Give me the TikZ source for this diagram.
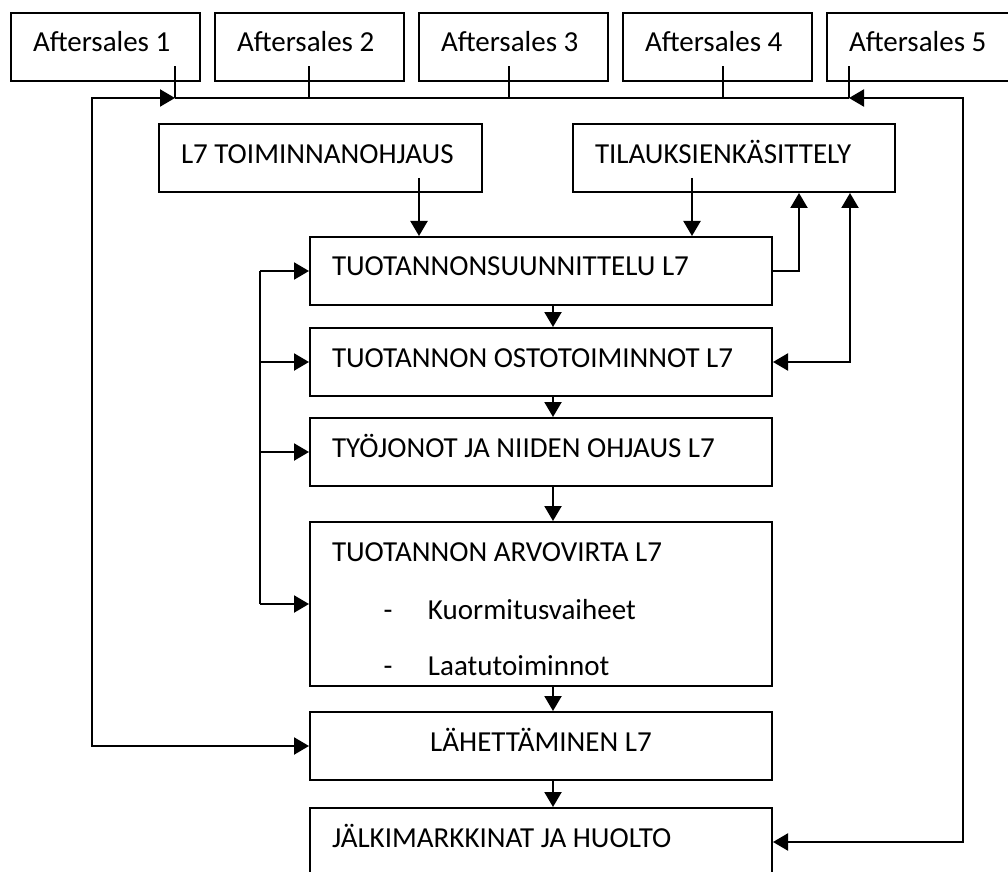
\documentclass[tikz,border=0pt]{standalone}
\usepackage{fontspec}
\setmainfont{Carlito}
\usetikzlibrary{arrows.meta,positioning}

\newcommand{\dashitem}[1]{\hspace*{25.75pt}\makebox[22.25pt][l]{-}#1}

\begin{document}
\begin{tikzpicture}[-,line width=1pt,
    box/.style={draw,rectangle,inner xsep=11pt,inner ysep=0pt,
                text width=#1,text height=19.5pt,text depth=14.5pt,
                align=left,font=\fontsize{14.5}{17.4}\selectfont,
                execute at begin node={\spaceskip=0pt\xspaceskip=0pt}},
    box/.default=209pt,
    arr/.style={-{Triangle[length=7.5pt,width=8.5pt]},line width=1.1pt},
    biarr/.style={{Triangle[length=7.5pt,width=8.5pt]}-{Triangle[length=7.5pt,width=8.5pt]},line width=1.1pt},
    tick/.style={line width=0.8pt}]

  \useasboundingbox (0,0) rectangle (504pt,-436pt);

  % aftersales row
  \node[box=72.5pt,anchor=north west] (a1) at (5pt,-6pt) {Aftersales 1};
  \node[box=72.5pt] (a2) [right=6.5pt of a1] {Aftersales 2};
  \node[box=72.5pt] (a3) [right=6.5pt of a2] {Aftersales 3};
  \node[box=72.5pt] (a4) [right=6.5pt of a3] {Aftersales 4};
  \node[box=72.5pt] (a5) [right=6.5pt of a4] {Aftersales 5};

  \node[box=139.5pt,anchor=north west] (ohj) at (79pt,-61.5pt) {L7 TOIMINNANOHJAUS};
  \node[box=139pt,anchor=north west] (til) at (286pt,-61.5pt) {TILAUKSIENKÄSITTELY};

  % main column
  \node[box,anchor=north west] (suun) at (154.5pt,-118pt) {TUOTANNONSUUNNITTELU L7};
  \node[box] (osto) [below=10.5pt of suun] {TUOTANNON OSTOTOIMINNOT L7};
  \node[box] (tyo) [below=10pt of osto] {TYÖJONOT JA NIIDEN OHJAUS L7};
  \node[box,text depth=62.5pt] (arvo) [below=17pt of tyo]
    {TUOTANNON ARVOVIRTA L7\\[11.6pt]\dashitem{Kuormitusvaiheet}\\[10.8pt]\dashitem{Laatutoiminnot}};
  \node[box,align=flush center] (lah) [below=12pt of arvo] {LÄHETTÄMINEN L7};
  \node[box] (jalk) [below=13pt of lah] {JÄLKIMARKKINAT JA HUOLTO};

  % bus under the aftersales boxes
  \foreach \i/\x in {1/87.5,2/154.5,3/254.5,4/361.5,5/424.5}{
    \coordinate (t\i) at (\x pt,-49pt);
    \draw[tick] (t\i) -- ++(0,16pt);
  }
  \draw (t1) -- (t5);

  \coordinate (lc) at (46pt,-49pt);
  \coordinate (rc) at (481.5pt,-49pt);
  \draw[biarr] (t1) -- (lc) |- (lah.west);
  \draw[biarr] (t5) -- (rc) |- (jalk.east);

  \draw[arr] ([xshift=49.25pt,yshift=7.5pt]ohj.south) coordinate (o1) -- (o1 |- suun.north);
  \draw[arr] ([xshift=-21pt,yshift=7.5pt]til.south) coordinate (o2) -- (o2 |- suun.north);
  \draw[arr] (suun.east) -| ([xshift=32.5pt]til.south);
  \draw[biarr] ([xshift=58pt]til.south) |- (osto.east);

  \foreach \a/\b in {suun/osto,osto/tyo,tyo/arvo,arvo/lah,lah/jalk}
    \draw[arr] ([xshift=6pt]\a.south) -- ([xshift=6pt]\b.north);

  % left feed bus
  \coordinate (lb) at (130pt,0);
  \draw[line width=1.1pt] (lb |- suun.west) -- (lb |- arvo.west);
  \foreach \n in {suun,osto,tyo,arvo}
    \draw[arr] (lb |- \n.west) -- (\n.west);
\end{tikzpicture}
\end{document}
